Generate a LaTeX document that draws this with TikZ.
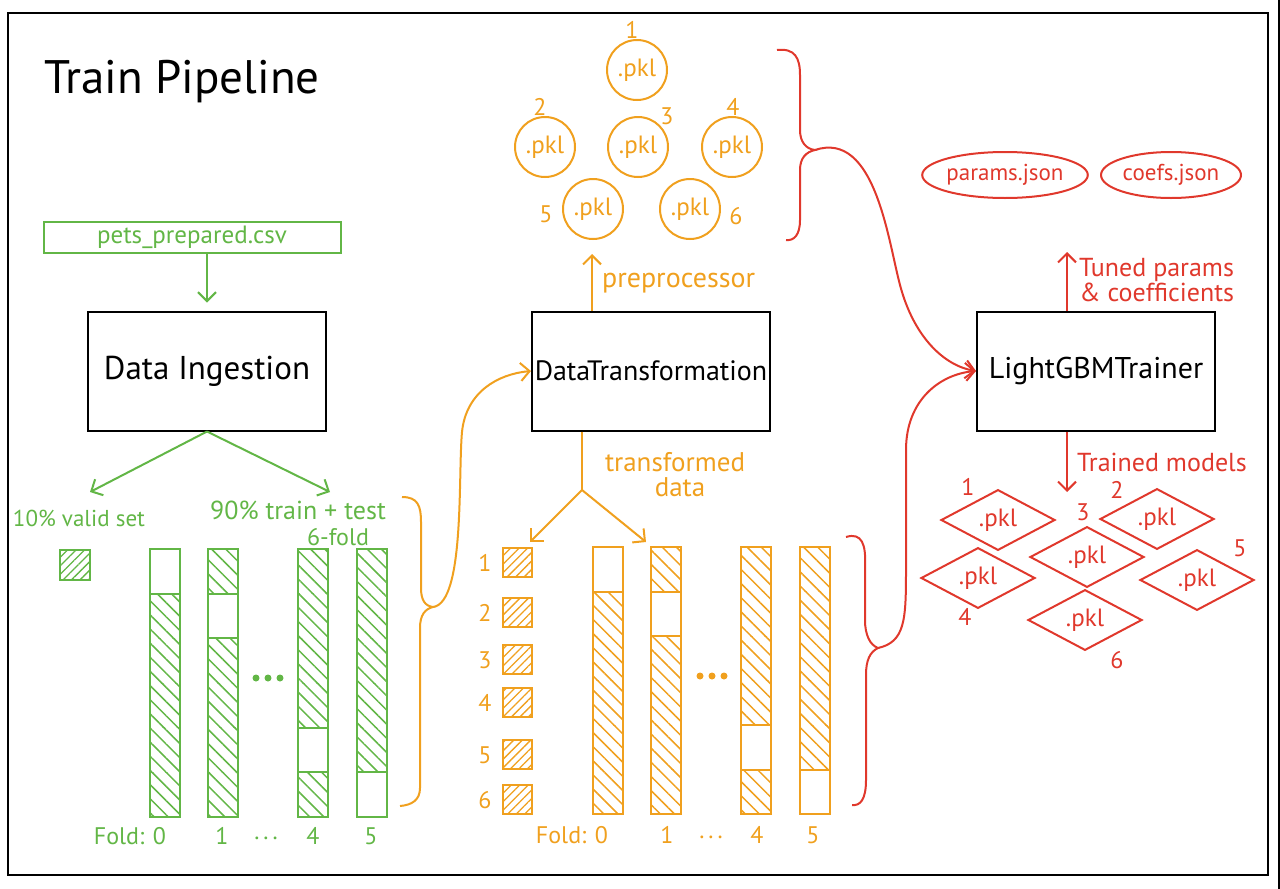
\documentclass[tikz,border=0pt]{standalone}
\usepackage{fontspec}
\setmainfont{PT Sans}
\usetikzlibrary{positioning,shapes.geometric,arrows.meta,patterns.meta}
\definecolor{pgreen}{RGB}{98,182,70}
\definecolor{porange}{RGB}{240,160,30}
\definecolor{pred}{RGB}{224,56,44}
\tikzset{
  procbox/.style={draw=black,line width=2pt,minimum width=238pt,minimum height=119pt,inner sep=0pt,font=\fontsize{30}{32}\selectfont},
  gtxt/.style={text=pgreen,inner sep=1pt,font=\fontsize{24}{26}\selectfont},
  otxt/.style={text=porange,inner sep=1pt,font=\fontsize{24}{26}\selectfont},
  rtxt/.style={text=pred,inner sep=1pt,font=\fontsize{24}{26}\selectfont},
  gline/.style={draw=pgreen,line width=2pt},
  oline/.style={draw=porange,line width=2pt},
  rline/.style={draw=pred,line width=2pt},
  barb/.style={-{Straight Barb[length=9pt,width=18pt,line width=2pt]}},
  pklcirc/.style={circle,draw=porange,line width=2pt,minimum size=60pt,inner sep=0pt,text=porange,font=\fontsize{25}{26}\selectfont},
  pkldiam/.style={diamond,draw=pred,line width=2pt,minimum width=114pt,minimum height=47pt,inner sep=0pt,text=pred,font=\fontsize{25}{26}\selectfont},
  jsonell/.style={ellipse,draw=pred,line width=2pt,minimum width=140pt,minimum height=46pt,inner sep=0pt,text=pred,font=\fontsize{23}{24}\selectfont},
  ghatch/.style={pattern={Lines[angle=-45,distance=10pt,line width=1.5pt]},pattern color=pgreen},
  ohatch/.style={pattern={Lines[angle=-45,distance=10pt,line width=1.5pt]},pattern color=porange},
}
\begin{document}
\begin{tikzpicture}[x=1pt,y=-1pt]
\useasboundingbox (0,0) rectangle (1280,889);
%frame
\draw[line width=2.5pt] (8,13) rectangle (1268,875);
\draw[line width=2pt] (1279,0) -- (1279,889);

% Text Node
\node[font=\fontsize{47}{50}\selectfont] (title) at (182,82) {Train Pipeline};

%Data ingestion part
\node[gtxt,draw=pgreen,line width=2pt,minimum width=297pt,minimum height=31pt,inner sep=0pt,font=\fontsize{25}{26}\selectfont] (pets) at (192,237) {pets\_prepared.csv};
\node[procbox,font=\fontsize{33}{34}\selectfont] (ingest) at (207,371) {Data Ingestion};
\draw[gline,barb,shorten >=8pt] (pets.south -| ingest) -- (ingest.north);
\coordinate (validtip) at (90,492);
\coordinate (traintip) at (330,492);
\draw[gline,barb] (ingest.south) -- (validtip);
\draw[gline,barb] (ingest.south) -- (traintip);
\node[gtxt,font=\fontsize{23}{24}\selectfont] (validlbl) at (79,518) {10\% valid set};
\node[gtxt,font=\fontsize{26}{28}\selectfont] (trainlbl) at (298,510) {90\% train + test};
\node[gtxt] (foldlbl) at (338,537) {6-fold};
\draw[gline,pattern={Lines[angle=45,distance=6pt,line width=1.3pt]},pattern color=pgreen] (60,550) rectangle (90,580);

%green folds
\foreach \bx/\gap in {150/0,208/1,298/4,357/5}{
  \foreach \s in {0,...,5}{
    \ifnum\s=\gap\else
      \path[ghatch] (\bx,549+\s*44.67) rectangle ++(30,44.67);
    \fi
  }
  \draw[gline] (\bx,549) rectangle ++(30,268);
  \draw[gline] (\bx,549+\gap*44.67) -- ++(30,0) (\bx,593.67+\gap*44.67) -- ++(30,0);
}
\foreach \dx in {256,268,280} \fill[pgreen] (\dx,678) circle (3.5);
\node[gtxt] (gf0) at (130,836) {Fold: 0};
\node[gtxt] (gf1) at (222,836) {1};
\node[gtxt] (gfd) at (266,838) {.\,.\,.};
\node[gtxt] (gf4) at (313,836) {4};
\node[gtxt] (gf5) at (371,836) {5};

%brace to transformation
\draw[oline] (402,497) .. controls (418,497) and (421,506) .. (421,522) -- (421,588)
  .. controls (421,600) and (425,606) .. (433,607)
  .. controls (425,609) and (420,615) .. (420,628) -- (420,788)
  .. controls (420,800) and (412,805) .. (400,806);
\coordinate (gbrace) at (433,607);

%Data transformation part
\node[procbox,font=\fontsize{28}{30}\selectfont] (dt) at (651,371) {DataTransformation};
\draw[oline,barb] (gbrace) .. controls (465,603) and (458,475) .. (462,432)
  .. controls (466,392) and (498,374) .. (dt.west);
\coordinate (pretip) at (592,254);
\draw[oline,barb] (dt.north -| pretip) -- (pretip);
\node[otxt,font=\fontsize{28}{30}\selectfont,anchor=west] (prelbl) at (601,283) {preprocessor};

%preprocessor files
\foreach \i/\cx/\cy in {1/637/70,2/545/147,3/638/147,4/732/147,5/593/209,6/690/209}
  \node[pklcirc] (pkl\i) at (\cx,\cy) {.pkl};
\foreach \i/\lx/\ly in {1/632/30,2/540/107,3/667/116,4/733/107,5/546/214,6/736/216}
  \node[otxt] (pkln\i) at (\lx,\ly) {\i};

\coordinate (forkpt) at (582,490);
\coordinate (sqtip) at (530,542);
\coordinate (bartip) at (646,542);
\draw[oline] (dt.south -| forkpt) -- (forkpt);
\draw[oline,barb] (forkpt) -- (sqtip);
\draw[oline,barb] (forkpt) -- (bartip);
\node[otxt,font=\fontsize{27}{25}\selectfont,align=center] (translbl) at (675,475) {transformed\\\hspace*{10pt}data};

%transformed valid sets
\foreach \i/\sy in {1/548,2/598,3/645,4/688,5/740,6/785}{
  \draw[oline,pattern={Lines[angle=45,distance=6pt,line width=1.3pt]},pattern color=porange] (503,\sy) rectangle ++(29,29);
  \node[otxt] (sqn\i) at (485,\sy+15) {\i};
}

%orange folds
\foreach \bx/\gap in {593/0,651/1,741/4,800/5}{
  \foreach \s in {0,...,5}{
    \ifnum\s=\gap\else
      \path[ohatch] (\bx,547+\s*44.5) rectangle ++(30,44.5);
    \fi
  }
  \draw[oline] (\bx,547) rectangle ++(30,267);
  \draw[oline] (\bx,547+\gap*44.5) -- ++(30,0) (\bx,591.5+\gap*44.5) -- ++(30,0);
}
\foreach \dx in {700,712,724} \fill[porange] (\dx,676) circle (3.5);
\node[otxt] (of0) at (572,835) {Fold: 0};
\node[otxt] (of1) at (667,835) {1};
\node[otxt] (ofd) at (711,837) {.\,.\,.};
\node[otxt] (of4) at (757,835) {4};
\node[otxt] (of5) at (813,835) {5};

%red braces
\draw[rline] (777,50) .. controls (795,48) and (800,58) .. (800,75) -- (800,130)
  .. controls (800,142) and (806,149) .. (815,150)
  .. controls (806,152) and (800,158) .. (800,170) -- (800,220)
  .. controls (800,235) and (794,241) .. (786,240);
\coordinate (cbrace) at (815,150);
\draw[rline] (846,537) .. controls (862,532) and (866,545) .. (865,565) -- (865,620)
  .. controls (865,635) and (870,645) .. (878,648)
  .. controls (870,652) and (866,660) .. (866,675) -- (866,780)
  .. controls (866,800) and (860,806) .. (852,805);
\coordinate (obrace) at (878,648);

%LightGBM trainer part
\node[procbox] (lgbm) at (1096,371) {LightGBMTrainer};
\draw[rline,barb] (cbrace) .. controls (875,130) and (888,240) .. (900,285)
  .. controls (914,338) and (945,366) .. (lgbm.west);
\draw[rline,barb] (obrace) .. controls (905,642) and (906,620) .. (906,570) -- (906,450)
  .. controls (906,400) and (940,374) .. (lgbm.west);

\coordinate (tunedtip) at (1067,252);
\draw[rline,barb] (lgbm.north -| tunedtip) -- (tunedtip);
\node[rtxt,font=\fontsize{26}{23}\selectfont,align=right,anchor=west] (tunedlbl) at (1078,280) {Tuned params\\\& coefficients};
\node[jsonell] (params) at (1005,175) {params.json};
\node[jsonell] (coefs) at (1171,175) {coefs.json};

\coordinate (trainedtip) at (1067,492);
\draw[rline,barb] (lgbm.south -| trainedtip) -- (trainedtip);
\node[rtxt,font=\fontsize{26}{28}\selectfont,anchor=west] (trainedlbl) at (1076,462) {Trained models};

%trained model files
\foreach \i/\cx/\cy in {1/998/520,2/1157/519,3/1087/557,4/978/578,5/1197/580,6/1085/620}
  \node[pkldiam] (mdl\i) at (\cx,\cy) {.pkl};
\foreach \i/\lx/\ly in {1/968/487,2/1117/490,3/1083/512,4/965/617,5/1240/548,6/1117/660}
  \node[rtxt] (mdln\i) at (\lx,\ly) {\i};
\end{tikzpicture}
\end{document}
